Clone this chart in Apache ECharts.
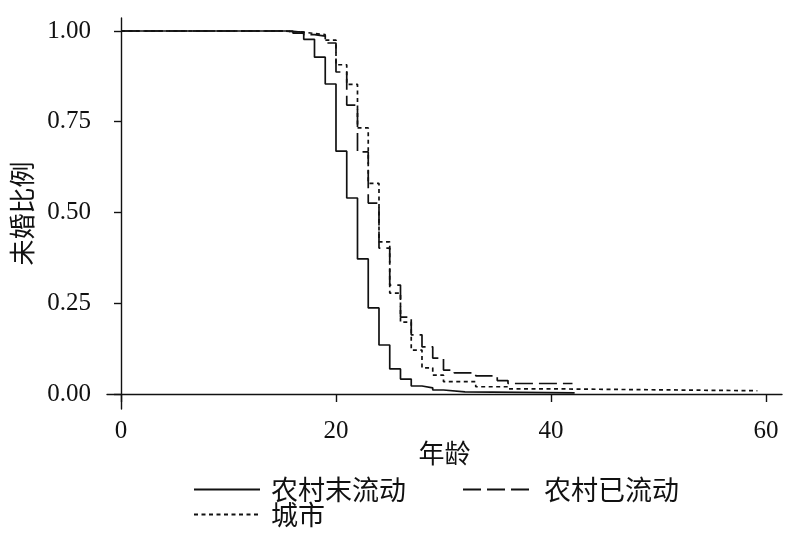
<!DOCTYPE html>
<html>
<head>
<meta charset="utf-8">
<script src="https://cdn.jsdelivr.net/npm/echarts@6/dist/echarts.min.js"></script>
<style>html,body{margin:0;padding:0;background:#fff}#c{width:800px;height:535px}</style>
</head>
<body>
<div id="c"></div>
<script>
var seriesNames = ['农村末流动', '农村已流动', '城市'];
var xTicks = [0, 20, 40, 60];
var yTicks = [0, 0.25, 0.5, 0.75, 1];
// [age, proportion unmarried] step points
var ruralNonMigrant = [[0,1],[16,0.994],[17,0.977],[18,0.928],[19,0.854],[20,0.669],[21,0.54],[22,0.372],[23,0.237],[24,0.135],[25,0.069],[26,0.041],[27,0.022],[28,0.017],[29,0.011],[30,0.006],[32,0.003],[42.2,0.003]];
var ruralMigrant = [[0,1],[15,0.997],[17,0.99],[18,0.986],[19,0.967],[20,0.887],[21,0.796],[22,0.667],[23,0.526],[24,0.402],[25,0.30],[26,0.212],[27,0.163],[28,0.13],[29,0.099],[30,0.066],[31,0.058],[33,0.05],[35,0.037],[36,0.029],[42,0.029]];
var urban = [[0,1],[15,0.997],[17,0.993],[18,0.99],[19,0.975],[20,0.907],[21,0.853],[22,0.733],[23,0.58],[24,0.419],[25,0.278],[26,0.198],[27,0.121],[28,0.072],[29,0.052],[30,0.034],[33,0.02],[36,0.014],[41,0.009],[59.2,0.009]];

var chart = echarts.init(document.getElementById('c'), null, {renderer: 'canvas'});
var serif = "'Liberation Serif', serif";
var cjk = "'Noto Sans CJK SC', sans-serif";
var ink = '#111';
function mk(name, data, dash) {
  return {
    name: name, type: 'line', step: 'end', data: data, symbol: 'none', showSymbol: false,
    animation: false,
    lineStyle: {color: ink, width: 1.7, type: dash},
    itemStyle: {color: ink}
  };
}
function lg(name, left, top, pad) {
  return {
    data: [name], left: left, top: top, itemWidth: 66, itemHeight: 14,
    itemStyle: {opacity: 0, borderWidth: 0},
    textStyle: {fontFamily: cjk, fontSize: 27, color: ink, padding: [0,0,0,pad]}
  };
}
chart.setOption({
  backgroundColor: '#fff',
  animation: false,
  grid: {left: 107, right: 18, top: 18, bottom: 126},
  legend: [
    lg(seriesNames[0], 188, 471, 6),
    lg(seriesNames[1], 457, 471, 10),
    lg(seriesNames[2], 188, 496, 6)
  ],
  xAxis: {
    type: 'value', min: -1.302, max: 61.49,
    name: '年龄', nameLocation: 'middle', nameGap: 31, nameMoveOverlap: false,
    nameTextStyle: {fontFamily: cjk, fontSize: 26, color: ink},
    axisLine: {show: true, lineStyle: {color: ink, width: 1.4}},
    axisTick: {show: true, length: 8, customValues: xTicks, lineStyle: {color: ink, width: 1.4}},
    axisLabel: {customValues: xTicks, fontFamily: serif, fontSize: 25, color: ink, margin: 10},
    splitLine: {show: false}
  },
  yAxis: {
    type: 'value', min: -0.0413, max: 1.0358,
    name: '未婚比例', nameLocation: 'middle', nameGap: 72, nameMoveOverlap: false,
    nameTextStyle: {fontFamily: cjk, fontSize: 26, color: ink},
    axisLine: {show: true, lineStyle: {color: ink, width: 1.4}},
    axisTick: {show: true, length: 7, customValues: yTicks, lineStyle: {color: ink, width: 1.4}},
    axisLabel: {customValues: yTicks, fontFamily: serif, fontSize: 25, color: ink, margin: 16,
      formatter: function (v) { return v.toFixed(2); }},
    splitLine: {show: false}
  },
  series: [
    mk(seriesNames[0], ruralNonMigrant, 'solid'),
    mk(seriesNames[1], ruralMigrant, [18, 6]),
    mk(seriesNames[2], urban, [4, 3.5])
  ]
});
</script>
</body>
</html>
